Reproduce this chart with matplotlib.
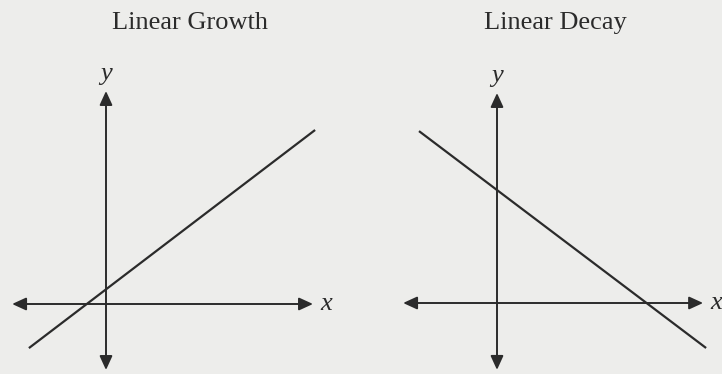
import matplotlib

matplotlib.use("Agg")
import matplotlib.pyplot as plt

# panel data (units: 1 = one grid step, origin at axes crossing)
titles = ["Linear Growth", "Linear Decay"]
line_x = [[-2.57, 6.97], [-2.6, 6.97]]
line_y = [[-1.47, 5.8], [5.73, -1.5]]
xaxis_ends = [[-3.13, 6.9], [-3.13, 6.87]]
yaxis_ends = [[-2.2, 7.1], [-2.23, 7.0]]

INK = "#2b2b2b"
BG = "#ededeb"
SCALE = 30.0  # pixels per unit
# origin pixel of each panel and left edge of panel in figure pixels
origins = [(106, 304), (497, 303)]
panel_left = [0, 361]
title_x = [190, 555]
W, H = 722, 374

plt.rcParams["font.family"] = ["Liberation Serif", "DejaVu Serif"]
fig = plt.figure(figsize=(W / 100, H / 100), dpi=100)
fig.patch.set_facecolor(BG)

for i in range(2):
    ox, oy = origins[i]
    left = panel_left[i]
    ax = fig.add_axes([left / W, 0, 361 / W, 1])
    ax.set_xlim((left - ox) / SCALE, (left + 361 - ox) / SCALE)
    ax.set_ylim((oy - H) / SCALE, oy / SCALE)
    ax.axis("off")

    arrow = dict(arrowstyle="<|-|>,head_length=0.7,head_width=0.32",
                 color=INK, lw=1.4, shrinkA=0, shrinkB=0, mutation_scale=12)
    ax.annotate("", xy=(xaxis_ends[i][1], 0), xytext=(xaxis_ends[i][0], 0),
                arrowprops=arrow)
    ax.annotate("", xy=(0, yaxis_ends[i][1]), xytext=(0, yaxis_ends[i][0]),
                arrowprops=arrow)

    ax.plot(line_x[i], line_y[i], color=INK, lw=1.6, solid_capstyle="butt")

    ax.text(xaxis_ends[i][1] + 0.25, 0, "x", style="italic", fontsize=19,
            color=INK, ha="left", va="center")
    ax.text(0, yaxis_ends[i][1] + 0.2, "y", style="italic", fontsize=19,
            color=INK, ha="center", va="bottom")

    fig.text(title_x[i] / W, 1 - 23 / H, titles[i], fontsize=19, color=INK,
             ha="center", va="center")

fig.savefig("out.png", dpi=100, facecolor=BG)
